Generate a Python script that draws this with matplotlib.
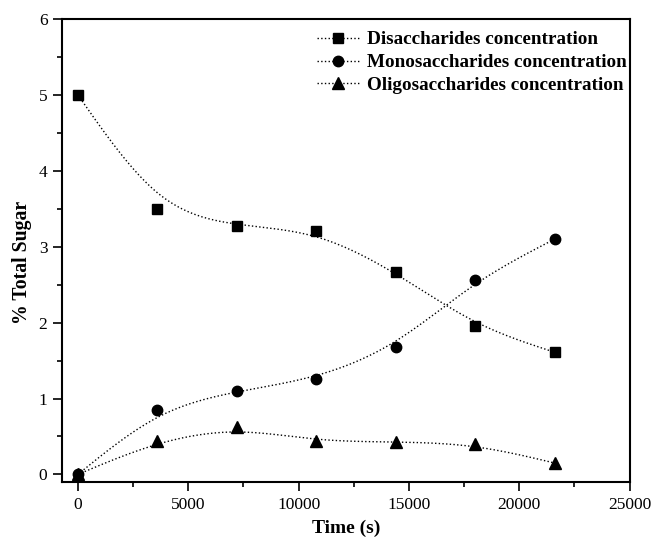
import numpy as np
import matplotlib
matplotlib.use('Agg')
import matplotlib.pyplot as plt
from matplotlib.ticker import MultipleLocator

matplotlib.rcParams['font.family'] = 'Liberation Serif'

# 시간 (s)
time_s = [0, 3600, 7200, 10800, 14400, 18000, 21600]

# % Total Sugar
disaccharides = [5.00, 3.50, 3.27, 3.21, 2.67, 1.95, 1.61]
monosaccharides = [0.00, 0.85, 1.10, 1.26, 1.68, 2.56, 3.10]
oligosaccharides = [0.00, 0.44, 0.62, 0.435, 0.43, 0.40, 0.15]

labels = ['Disaccharides concentration',
          'Monosaccharides concentration',
          'Oligosaccharides concentration']
markers = ['s', 'o', '^']
msizes = [7, 7.5, 8]


def bspline(px, py, n=40):
    # uniform cubic B-spline, data points as control points, ends pinned
    px = np.asarray(px, float)
    py = np.asarray(py, float)
    qx = np.concatenate([[2 * px[0] - px[1]], px, [2 * px[-1] - px[-2]]])
    qy = np.concatenate([[2 * py[0] - py[1]], py, [2 * py[-1] - py[-2]]])
    t = np.linspace(0, 1, n)
    b0 = (1 - t) ** 3 / 6
    b1 = (3 * t ** 3 - 6 * t ** 2 + 4) / 6
    b2 = (-3 * t ** 3 + 3 * t ** 2 + 3 * t + 1) / 6
    b3 = t ** 3 / 6
    xs, ys = [], []
    for k in range(len(qx) - 3):
        xs.append(b0 * qx[k] + b1 * qx[k + 1] + b2 * qx[k + 2] + b3 * qx[k + 3])
        ys.append(b0 * qy[k] + b1 * qy[k + 1] + b2 * qy[k + 2] + b3 * qy[k + 3])
    return np.concatenate(xs), np.concatenate(ys)


fig = plt.figure(figsize=(6.54, 5.44), dpi=100)
ax = fig.add_axes([0.0948, 0.114, 0.868, 0.851])

for yv, lab, m, ms in zip([disaccharides, monosaccharides, oligosaccharides],
                          labels, markers, msizes):
    sx, sy = bspline(time_s, yv)
    ax.plot(sx, sy, color='black', linestyle=':', linewidth=1.0)
    ax.plot(time_s, yv, linestyle='none', marker=m, markersize=ms,
            color='black')
    # legend proxy
    ax.plot([], [], color='black', linestyle=':', linewidth=1.0,
            marker=m, markersize=ms, label=lab)

ax.set_xlim(-720, 25000)
ax.set_ylim(-0.1, 6)
ax.xaxis.set_major_locator(MultipleLocator(5000))
ax.xaxis.set_minor_locator(MultipleLocator(2500))
ax.yaxis.set_major_locator(MultipleLocator(1))
ax.yaxis.set_minor_locator(MultipleLocator(0.5))
ax.tick_params(which='major', direction='out', length=6.5, width=1.2,
               labelsize=12.5, pad=4)
ax.tick_params(which='minor', direction='out', length=3.6, width=1.2)
for sp in ax.spines.values():
    sp.set_linewidth(1.5)

ax.set_xlabel('Time (s)', fontsize=14, fontweight='bold', labelpad=5)
ax.set_ylabel('% Total Sugar', fontsize=14.2, fontweight='bold')
ax.yaxis.set_label_coords(-0.053, 0.475)

ax.legend(loc='upper left', bbox_to_anchor=(0.449, 0.974), frameon=False,
          prop={'weight': 'bold', 'size': 13.8},
          handlelength=2.2, handletextpad=0.4, labelspacing=0.28,
          borderaxespad=0.0, borderpad=0.0)

plt.savefig('out.png', dpi=100)
